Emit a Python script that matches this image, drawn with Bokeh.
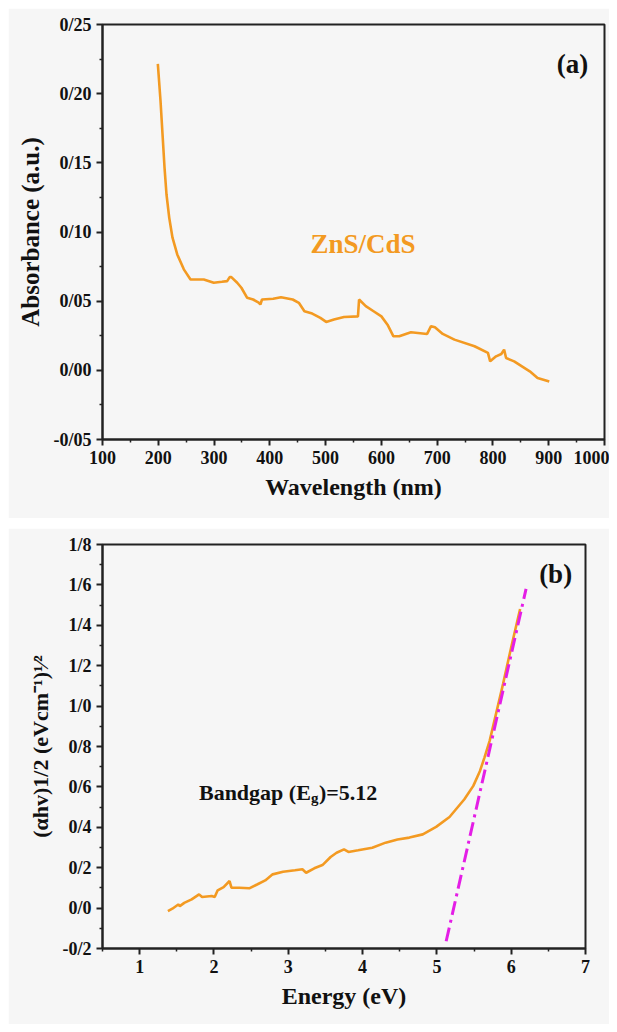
from bokeh.plotting import figure
from bokeh.layouts import column
from bokeh.models import FixedTicker, CustomJSTickFormatter, Label
from bokeh.core.properties import value
from bokeh.embed import file_html
from bokeh.resources import INLINE

# ---------------- data: panel (a) ----------------
wavelength = [199.2, 204, 207.6, 211.2, 214.7, 219.6, 225.5, 234, 245.8, 257.8, 281.6, 299.5,
              314, 323.5, 328, 331, 341.5, 349, 359.4, 370, 380, 383, 386, 406, 420, 441, 452,
              462, 476, 490.6, 501, 515, 533, 558, 560, 572, 586, 600, 611, 621.6, 632, 653,
              682, 689, 696, 710, 731, 767, 791, 795, 805.6, 815, 820, 823.6, 838, 866, 880, 901]
absorbance = [0.2215, 0.1949, 0.1708, 0.1466, 0.1273, 0.1104, 0.0959, 0.0838, 0.073, 0.0657,
              0.0657, 0.0633, 0.064, 0.0645, 0.0674, 0.0674, 0.0633, 0.0597, 0.0524, 0.0512,
              0.0490, 0.0476, 0.0512, 0.0517, 0.0529, 0.0512, 0.0488, 0.0427, 0.041, 0.0379,
              0.035, 0.0367, 0.0386, 0.039, 0.0512, 0.0464, 0.0427, 0.039, 0.033, 0.0246,
              0.0246, 0.0275, 0.0263, 0.0319, 0.0311, 0.0263, 0.0222, 0.0174, 0.0126, 0.0065,
              0.0101, 0.0118, 0.015, 0.0089, 0.0065, -0.0007, -0.0056, -0.008]
a_xticks = [100, 200, 300, 400, 500, 600, 700, 800, 900, 1000]
a_xminor = [150, 250, 350, 450, 550, 650, 750, 850, 950]
a_yticks = [-0.05, 0.0, 0.05, 0.10, 0.15, 0.20, 0.25]
a_yminor = [-0.025, 0.025, 0.075, 0.125, 0.175, 0.225]

# ---------------- data: panel (b) ----------------
energy = [1.38, 1.44, 1.52, 1.54, 1.60, 1.70, 1.80, 1.84, 1.97, 2.01, 2.05, 2.13, 2.21, 2.235,
          2.34, 2.475, 2.58, 2.69, 2.79, 2.93, 3.09, 3.19, 3.24, 3.35, 3.46, 3.57, 3.65, 3.75,
          3.81, 3.94, 4.13, 4.31, 4.47, 4.63, 4.81, 4.99, 5.17, 5.37, 5.49, 5.58, 5.64, 5.71,
          5.89, 6.00, 6.12]
tauc = [-0.015, -0.003, 0.018, 0.010, 0.026, 0.043, 0.068, 0.055, 0.060, 0.055, 0.088, 0.104,
        0.134, 0.101, 0.101, 0.098, 0.117, 0.137, 0.167, 0.180, 0.187, 0.192, 0.175, 0.197,
        0.213, 0.253, 0.274, 0.291, 0.278, 0.286, 0.299, 0.324, 0.340, 0.349, 0.365, 0.402,
        0.451, 0.539, 0.605, 0.679, 0.745, 0.828, 1.109, 1.291, 1.481]
fit_x = [5.125, 6.20]
fit_y = [-0.164, 1.58]
b_xticks = [1, 2, 3, 4, 5, 6, 7]
b_xminor = [0.5, 1.5, 2.5, 3.5, 4.5, 5.5, 6.5]
b_yticks = [-0.2, 0.0, 0.2, 0.4, 0.6, 0.8, 1.0, 1.2, 1.4, 1.6, 1.8]
b_yminor = [-0.1, 0.1, 0.3, 0.5, 0.7, 0.9, 1.1, 1.3, 1.5, 1.7]

FONT = "Liberation Serif"
ORANGE = "#f39a22"
MAGENTA = "#e41ee6"
BG = "#f6f6f6"


def style(p, xt, xm, yt, ym, ydigits):
    p.background_fill_color = BG
    p.border_fill_color = BG
    p.outline_line_color = "#222222"
    p.outline_line_width = 2
    p.grid.visible = False
    for ax in (p.xaxis[0], p.yaxis[0]):
        ax.axis_line_width = 2
        ax.axis_line_color = "#222222"
        ax.major_tick_line_width = 2
        ax.minor_tick_line_width = 1.5
        ax.major_tick_line_color = "#222222"
        ax.minor_tick_line_color = "#222222"
        ax.major_tick_in = 0
        ax.major_tick_out = 6
        ax.minor_tick_in = 0
        ax.minor_tick_out = 3
        ax.major_label_text_font = FONT
        ax.major_label_text_font_style = "bold"
        ax.major_label_text_font_size = "18px"
        ax.major_label_text_color = "#111111"
        ax.major_label_standoff = 5
        ax.axis_label_text_font = FONT
        ax.axis_label_text_font_style = "bold"
        ax.axis_label_text_color = "#111111"
        ax.axis_label_standoff = 7
    p.xaxis[0].ticker = FixedTicker(ticks=xt, minor_ticks=xm)
    p.yaxis[0].ticker = FixedTicker(ticks=yt, minor_ticks=ym)
    p.yaxis[0].formatter = CustomJSTickFormatter(
        code="return tick.toFixed(%d).replace('.', '/');" % ydigits)


# ---------------- panel (a) ----------------
p1 = figure(frame_width=502, frame_height=415, x_range=(100, 1000), y_range=(-0.05, 0.25),
            min_border_left=94, min_border_right=5, min_border_top=16, min_border_bottom=79,
            toolbar_location=None, output_backend="svg")
style(p1, a_xticks, a_xminor, a_yticks, a_yminor, 2)
p1.xaxis[0].axis_label = "Wavelength (nm)"
p1.xaxis[0].axis_label_text_font_size = "24px"
p1.yaxis[0].axis_label = "Absorbance (a.u.)"
p1.yaxis[0].axis_label_text_font_size = "25px"
p1.line(wavelength, absorbance, line_color=ORANGE, line_width=2.6)
p1.text(x=[473], y=[0.0915], text=["ZnS/CdS"], text_font=value(FONT), text_font_style="bold",
        text_font_size="27px", text_color=ORANGE, text_align="left", text_baseline="alphabetic")
p1.add_layout(Label(x=971, y=0.2215, text="(a)", text_font=FONT, text_font_style="bold",
                    text_font_size="27px", text_color="#111111", text_align="right",
                    text_baseline="alphabetic"))

# ---------------- panel (b) ----------------
p2 = figure(frame_width=483, frame_height=404, x_range=(0.5, 7), y_range=(-0.2, 1.8),
            min_border_left=92, min_border_right=26, min_border_top=16, min_border_bottom=76,
            toolbar_location=None, output_backend="svg")
style(p2, b_xticks, b_xminor, b_yticks, b_yminor, 1)
p2.xaxis[0].axis_label = "Energy (eV)"
p2.xaxis[0].axis_label_text_font_size = "24px"
p2.yaxis[0].axis_label = "(\u03b1hv)1/2 (eVcm\u207b\u00b9)\u00b9\u2044\u00b2"
p2.yaxis[0].axis_label_text_font_size = "22px"
p2.line(energy, tauc, line_color=ORANGE, line_width=2.6)
p2.line(fit_x, fit_y, line_color=MAGENTA, line_width=3, line_dash="14 5 3 5")

bx, by = 1.798, 0.572
p2.text(x=[bx], y=[by], text=["Bandgap (E"], text_font=value(FONT), text_font_style="bold",
        text_font_size="22px", text_color="#111111", text_align="left", text_baseline="alphabetic")
p2.text(x=[bx], y=[by], text=["g"], x_offset=112, y_offset=5, text_font=value(FONT),
        text_font_style="bold", text_font_size="15px", text_color="#111111",
        text_align="left", text_baseline="alphabetic")
p2.text(x=[bx], y=[by], text=[")=5.12"], x_offset=120, text_font=value(FONT),
        text_font_style="bold", text_font_size="22px", text_color="#111111",
        text_align="left", text_baseline="alphabetic")
p2.add_layout(Label(x=6.82, y=1.655, text="(b)", text_font=FONT, text_font_style="bold",
                    text_font_size="27px", text_color="#111111", text_align="right",
                    text_baseline="alphabetic"))

layout = column(p1, p2, spacing=10, margin=(8, 0, 0, 8))
open("out.html", "w").write(file_html(layout, INLINE))
